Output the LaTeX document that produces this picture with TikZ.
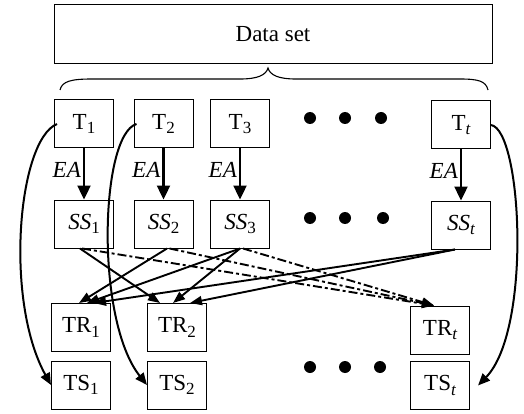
\documentclass[tikz,border=0pt]{standalone}
\usepackage{fontspec}
\setmainfont{Liberation Serif}
\usetikzlibrary{arrows.meta}
% lowered index set in the text font
\newcommand{\lowidx}[1]{\raisebox{-0.2em}{\fontsize{17}{17}\selectfont #1}}
\begin{document}
\begin{tikzpicture}[x=1pt,y=-1pt,
  box/.style={draw,line width=1pt,minimum width=59pt,minimum height=48pt,
    inner sep=0pt,font=\fontsize{23}{26}\selectfont},
  eaarrow/.style={-{Triangle[length=14pt,width=13pt]},line width=2.4pt},
  link/.style={-{Triangle[length=12pt,width=9pt]},line width=1.9pt},
  dashdot/.style={link,dash pattern=on 9pt off 3pt on 3pt off 3pt},
  curvearrow/.style={-{Triangle[length=12pt,width=10pt]},line width=2pt},
  blob/.style={circle,fill,inner sep=0pt,minimum size=12pt},
  lab/.style={font=\fontsize{23}{26}\selectfont\itshape,inner sep=2pt}
]
\useasboundingbox (0,0) rectangle (524,414);
\fill[white] (0,0) rectangle (524,414);

% data set and its brace
\node[draw,line width=1pt,minimum width=438pt,minimum height=59pt,inner sep=0pt,
  font=\fontsize{23}{26}\selectfont] (ds) at (273,34.5) {\raisebox{-3pt}{Data set}};
\draw[line width=1.1pt] (60,90) .. controls (62,81) and (72,79) .. (92,79) -- (240,79)
  .. controls (258,79) and (266,75) .. (268,68)
  .. controls (270,75) and (278,79) .. (296,79) -- (460,79)
  .. controls (478,79) and (486,81) .. (488,90);

% training subsets
\node[box] (t1) at (84,124) {T\lowidx{1}};
\node[box] (t2) at (163.5,124) {T\lowidx{2}};
\node[box] (t3) at (240,124) {T\lowidx{3}};
\node[box] (tt) at (461,125) {T\lowidx{\itshape t}};
\node[blob] (a1) at (310,118) {};
\node[blob] (a2) at (345,118) {};
\node[blob] (a3) at (381,118) {};

% selected subsets
\node[box] (ss1) at (84,224) {\itshape SS\lowidx{\upshape 1}};
\node[box] (ss2) at (163.5,224) {\itshape SS\lowidx{\upshape 2}};
\node[box] (ss3) at (240,224) {\itshape SS\lowidx{\upshape 3}};
\node[box] (sst) at (461,225) {\itshape SS\lowidx{t}};
\node[blob] (b1) at (310,218) {};
\node[blob] (b2) at (345,218) {};
\node[blob] (b3) at (383,218) {};

% training and test sets
\node[box] (tr1) at (81,327.5) {TR\lowidx{1}};
\node[box] (ts1) at (81,385) {TS\lowidx{1}};
\node[box] (tr2) at (177,327.5) {TR\lowidx{2}};
\node[box] (ts2) at (177,385) {TS\lowidx{2}};
\node[box] (trt) at (440,330) {TR\lowidx{\itshape t}};
\node[box] (tst) at (440,385.5) {TS\lowidx{\itshape t}};
\node[blob] (c1) at (310,367) {};
\node[blob] (c2) at (345,367) {};
\node[blob] (c3) at (380,367) {};

% EA arrows
\foreach \a/\b in {t1/ss1,t2/ss2,t3/ss3,tt/sst}
  \draw[eaarrow] (\a.south) -- (\a.south |- \b.north)
    node[pos=0.42,left,lab] {EA};

% crossing links to the training sets
\draw[link] ([xshift=-4pt]ss1.south) -- ([xshift=-17pt]tr2.north);
\draw[link] ([xshift=3.5pt]ss2.south) -- ([xshift=-2pt]tr1.north);
\draw[link] (ss3.south) -- ([xshift=6pt]tr1.north);
\draw[link] (ss3.south) -- ([xshift=-4pt]tr2.north);
\draw[link] ([xshift=-6pt]sst.south) -- ([xshift=13pt]tr1.north);
\draw[link] ([xshift=-6pt]sst.south) -- ([xshift=13pt]tr2.north);
\draw[dashdot] ([xshift=-2pt]ss1.south) -- ([xshift=-6pt]trt.north);
\draw[dashdot] ([xshift=6pt]ss2.south) -- ([xshift=-6pt]trt.north);
\draw[dashdot] ([xshift=3pt]ss3.south) -- ([xshift=-6pt]trt.north);

% curved arrows to the test sets
\draw[curvearrow] ([xshift=3pt]t1.west) .. controls (18,140) and (4,300) .. (ts1.west);
\draw[curvearrow] ([xshift=3pt]t2.west) .. controls (100,135) and (95,320) .. (ts2.west);
\draw[curvearrow] (tt.east) .. controls (522,130) and (532,330) .. ([xshift=8pt]tst.east);
\end{tikzpicture}
\end{document}
